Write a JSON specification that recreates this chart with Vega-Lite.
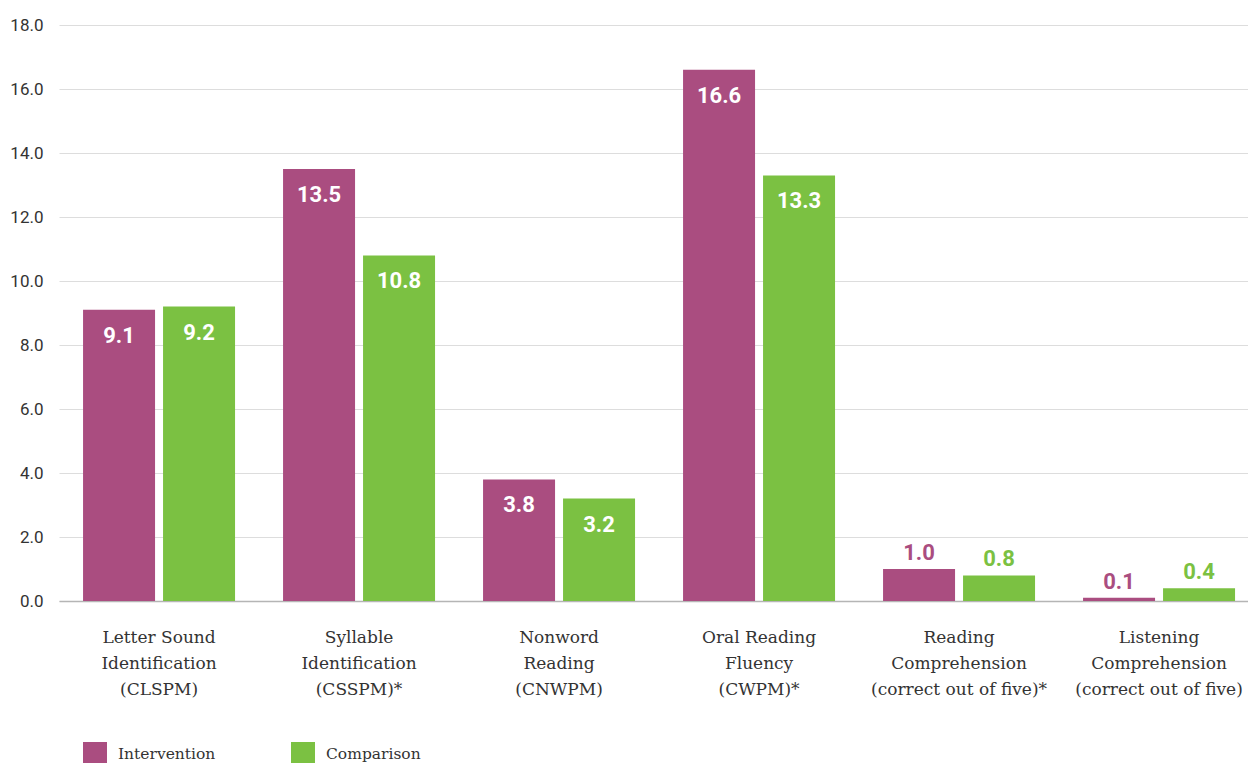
{
  "$schema": "https://vega.github.io/schema/vega-lite/v6.json",
  "autosize": {"type": "none"},
  "padding": {"left": 59, "top": 25, "right": 0, "bottom": 162},
  "width": 1189,
  "height": 576,
  "background": "white",
  "config": {"view": {"stroke": null}},
  "data": {"values": [
    {"measure": "Letter Sound|Identification|(CLSPM)", "group": "Intervention", "value": 9.1},
    {"measure": "Letter Sound|Identification|(CLSPM)", "group": "Comparison", "value": 9.2},
    {"measure": "Syllable|Identification|(CSSPM)*", "group": "Intervention", "value": 13.5},
    {"measure": "Syllable|Identification|(CSSPM)*", "group": "Comparison", "value": 10.8},
    {"measure": "Nonword|Reading|(CNWPM)", "group": "Intervention", "value": 3.8},
    {"measure": "Nonword|Reading|(CNWPM)", "group": "Comparison", "value": 3.2},
    {"measure": "Oral Reading|Fluency|(CWPM)*", "group": "Intervention", "value": 16.6},
    {"measure": "Oral Reading|Fluency|(CWPM)*", "group": "Comparison", "value": 13.3},
    {"measure": "Reading|Comprehension|(correct out of five)*", "group": "Intervention", "value": 1.0},
    {"measure": "Reading|Comprehension|(correct out of five)*", "group": "Comparison", "value": 0.8},
    {"measure": "Listening|Comprehension|(correct out of five)", "group": "Intervention", "value": 0.1},
    {"measure": "Listening|Comprehension|(correct out of five)", "group": "Comparison", "value": 0.4}
  ]},
  "encoding": {
    "x": {
      "field": "measure", "type": "nominal", "sort": null,
      "scale": {"paddingInner": 0.24, "paddingOuter": 0.0925, "align": 0.65},
      "axis": {
        "title": null, "labelAngle": 0, "ticks": false,
        "domainColor": "#b5b5b5", "domainWidth": 1.5,
        "labelExpr": "split(datum.label, '|')",
        "labelFont": "DejaVu Serif", "labelFontSize": 17, "labelColor": "#333333",
        "labelPadding": 28, "labelLineHeight": 26, "labelLimit": 400
      }
    },
    "xOffset": {
      "field": "group", "type": "nominal", "sort": ["Intervention", "Comparison"],
      "scale": {"paddingInner": 0.1, "paddingOuter": 0}
    },
    "y": {
      "field": "value", "type": "quantitative",
      "scale": {"domain": [0, 18], "nice": false},
      "axis": {
        "title": null, "values": [0, 2, 4, 6, 8, 10, 12, 14, 16, 18], "format": ".1f",
        "domain": false, "ticks": false, "gridColor": "#dddddd", "gridWidth": 1,
        "labelFont": "Roboto", "labelFontSize": 17, "labelColor": "#333333", "labelPadding": 16
      }
    }
  },
  "layer": [
    {
      "mark": {"type": "bar"},
      "encoding": {
        "color": {
          "field": "group", "type": "nominal",
          "scale": {"domain": ["Intervention", "Comparison"], "range": ["#AA4D80", "#7BC142"]},
          "legend": {
            "title": null, "orient": "none", "direction": "horizontal", "columns": 2,
            "legendX": 24, "legendY": 717,
            "symbolType": "square", "symbolSize": 576, "symbolStrokeWidth": 0,
            "labelFont": "DejaVu Serif", "labelFontSize": 15.5, "labelColor": "#333333",
            "labelOffset": 11, "columnPadding": 75
          }
        }
      }
    },
    {
      "transform": [{"filter": "datum.value > 2"}],
      "mark": {"type": "text", "font": "Roboto", "fontWeight": "bold", "fontSize": 22, "color": "white", "baseline": "middle", "dy": 26},
      "encoding": {"text": {"field": "value", "type": "quantitative", "format": ".1f"}}
    },
    {
      "transform": [{"filter": "datum.value <= 2"}],
      "mark": {"type": "text", "font": "Roboto", "fontWeight": "bold", "fontSize": 22, "baseline": "middle", "dy": -16},
      "encoding": {
        "text": {"field": "value", "type": "quantitative", "format": ".1f"},
        "color": {"field": "group", "type": "nominal", "legend": null}
      }
    }
  ]
}
